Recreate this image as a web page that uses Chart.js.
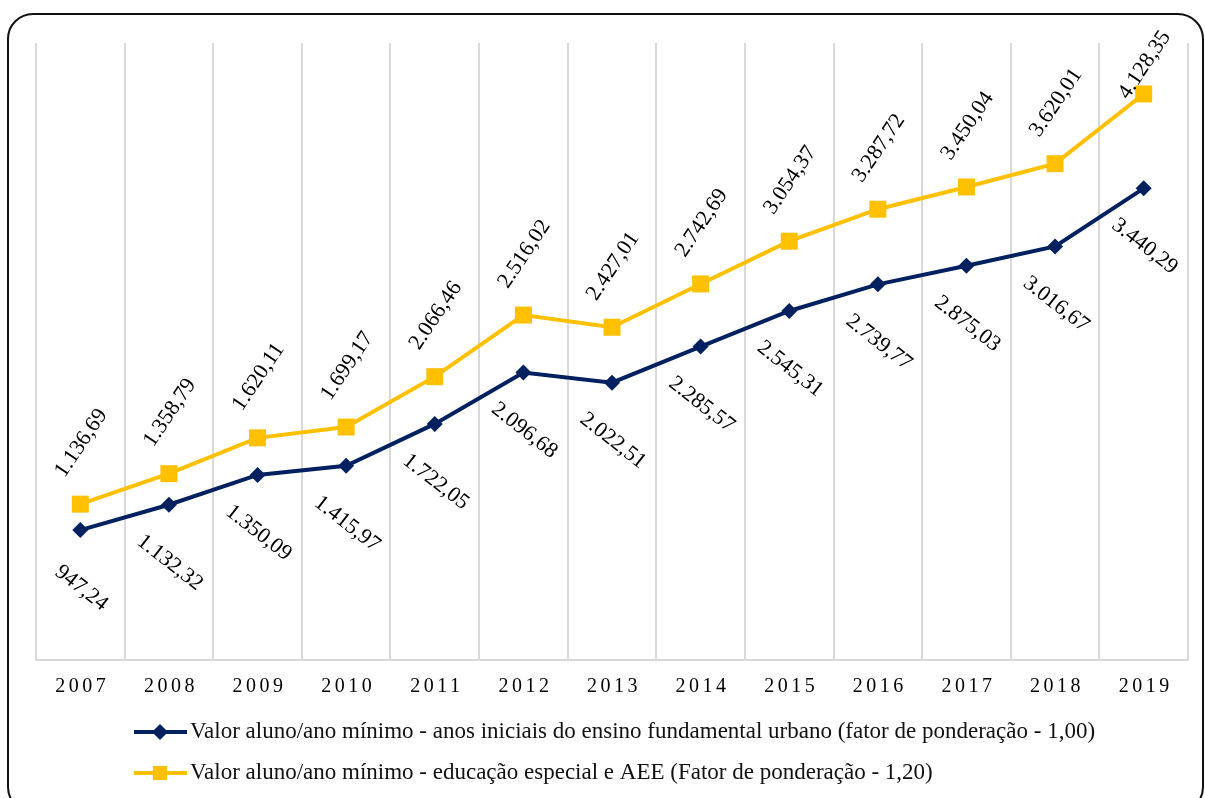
<!DOCTYPE html>
<html>
<head>
<meta charset="utf-8">
<script src="https://cdn.jsdelivr.net/npm/chart.js@4/dist/chart.umd.min.js"></script>
<style>
  html, body { margin: 0; padding: 0; background: #fff; }
  #wrap { position: relative; width: 1205px; height: 798px; overflow: hidden; }
  #frame {
    position: absolute; left: 7px; top: 13px; width: 1197px; height: 800px;
    border: 2px solid #111; border-radius: 26px; box-sizing: border-box;
  }
  canvas { position: absolute; left: 0; top: 0; }
</style>
</head>
<body>
<div id="wrap">
  <div id="frame"></div>
  <canvas id="chart" width="1205" height="798"></canvas>
</div>
<script>
const years = ['2007', '2008', '2009', '2010', '2011', '2012', '2013', '2014', '2015', '2016', '2017', '2018', '2019'];
const urbanValues = [947.24, 1132.32, 1350.09, 1415.97, 1722.05, 2096.68, 2022.51, 2285.57, 2545.31, 2739.77, 2875.03, 3016.67, 3440.29];
const specialValues = [1136.69, 1358.79, 1620.11, 1699.17, 2066.46, 2516.02, 2427.01, 2742.69, 3054.37, 3287.72, 3450.04, 3620.01, 4128.35];
const seriesNames = [
  'Valor aluno/ano mínimo - anos iniciais do ensino fundamental urbano (fator de ponderação - 1,00)',
  'Valor aluno/ano mínimo - educação especial e AEE (Fator de ponderação - 1,20)'
];

const NAVY = '#002060';
const GOLD = '#FFC000';
const SERIF = '"Liberation Serif", "Times New Roman", serif';

// 1234.5 -> "1.234,50"
function fmt(v) {
  const parts = v.toFixed(2).split('.');
  parts[0] = parts[0].replace(/\B(?=(\d{3})+(?!\d))/g, '.');
  return parts.join(',');
}

// rotated value labels: navy below the point, gold above it
const valueLabels = {
  id: 'valueLabels',
  afterDatasetsDraw(chart) {
    const ctx = chart.ctx;
    const cfg = [
      { dy: 58, angle: 38 },
      { dy: -61, angle: -56 }
    ];
    chart.data.datasets.forEach((ds, i) => {
      const meta = chart.getDatasetMeta(i);
      meta.data.forEach((pt, j) => {
        let cy = pt.y + cfg[i].dy;
        if (cy < 65) cy = 65;
        ctx.save();
        ctx.translate(pt.x + 1, cy);
        ctx.rotate(cfg[i].angle * Math.PI / 180);
        ctx.font = '22px ' + SERIF;
        ctx.fillStyle = '#000';
        ctx.textAlign = 'center';
        ctx.textBaseline = 'middle';
        ctx.fillText(fmt(ds.data[j]), 0, 0);
        ctx.restore();
      });
    });
  }
};

// spaced year labels under the axis and the two-row legend
const axisAndLegend = {
  id: 'axisAndLegend',
  afterDraw(chart) {
    const ctx = chart.ctx;
    const xs = chart.scales.x;
    ctx.save();
    ctx.font = '20px ' + SERIF;
    ctx.fillStyle = '#000';
    ctx.textAlign = 'center';
    ctx.textBaseline = 'middle';
    ctx.letterSpacing = '3.5px';
    years.forEach((y, i) => {
      ctx.fillText(y, xs.getPixelForValue(i) + 2, 687);
    });
    ctx.restore();

    const rows = [732, 773];
    chart.data.datasets.forEach((ds, i) => {
      const y = rows[i];
      ctx.save();
      ctx.strokeStyle = ds.borderColor;
      ctx.lineWidth = 4;
      ctx.beginPath();
      ctx.moveTo(134, y);
      ctx.lineTo(187, y);
      ctx.stroke();
      ctx.fillStyle = ds.borderColor;
      Chart.helpers.drawPoint(ctx, {
        pointStyle: ds.pointStyle,
        radius: i === 0 ? 8 : 10,
        borderWidth: 0
      }, 160, y);
      ctx.fillStyle = '#111';
      ctx.font = '23px ' + SERIF;
      ctx.textAlign = 'left';
      ctx.textBaseline = 'middle';
      ctx.fillText(ds.label, 190, y);
      ctx.restore();
    });
  }
};

new Chart(document.getElementById('chart'), {
  type: 'line',
  data: {
    labels: years,
    datasets: [
      {
        label: seriesNames[0],
        data: urbanValues,
        borderColor: NAVY,
        backgroundColor: NAVY,
        borderWidth: 4,
        pointStyle: 'rectRot',
        pointRadius: 8,
        pointBorderWidth: 0,
        tension: 0
      },
      {
        label: seriesNames[1],
        data: specialValues,
        borderColor: GOLD,
        backgroundColor: GOLD,
        borderWidth: 4,
        pointStyle: 'rect',
        pointRadius: 12,
        pointBorderWidth: 0,
        tension: 0
      }
    ]
  },
  options: {
    responsive: false,
    devicePixelRatio: 1,
    animation: false,
    layout: { padding: { left: 36, right: 17, top: 43, bottom: 138 } },
    plugins: {
      legend: { display: false },
      tooltip: { enabled: false }
    },
    scales: {
      x: {
        offset: true,
        grid: { offset: true, color: '#d9d9d9', lineWidth: 2, drawTicks: false },
        border: { color: '#d9d9d9', width: 2 },
        ticks: { display: false }
      },
      y: {
        display: false,
        min: 0,
        max: 4500
      }
    }
  },
  plugins: [valueLabels, axisAndLegend]
});
</script>
</body>
</html>
